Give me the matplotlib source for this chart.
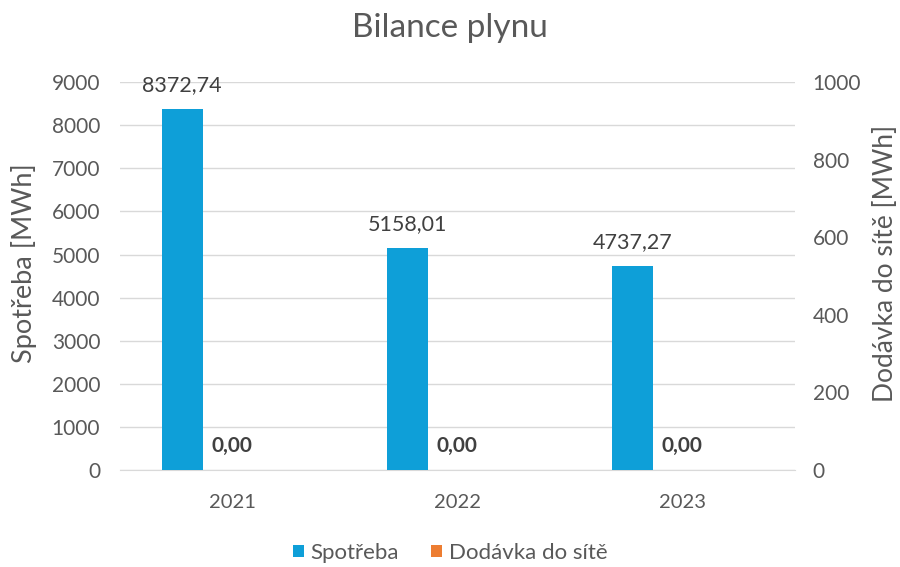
import numpy as np
import matplotlib.pyplot as plt

plt.rcParams['font.family'] = ['Lato', 'DejaVu Sans']

# Data
years = ['2021', '2022', '2023']
spotreba = [8372.74, 5158.01, 4737.27]
dodavka = [0.00, 0.00, 0.00]

def fmt(v):
    return f'{v:.2f}'.replace('.', ',')

text_col = '#595959'
x = np.arange(len(years))
w = 0.18

fig = plt.figure(figsize=(9, 5.67), dpi=100)
ax = fig.add_axes([0.133, 0.171, 0.750, 0.684])
ax2 = ax.twinx()

b1 = ax.bar(x - 0.222, spotreba, w, color='#0E9FD8', label='Spotřeba', zorder=3)
b2 = ax2.bar(x, dodavka, w, color='#ED7D31', label='Dodávka do sítě', zorder=3)

# data labels
for xi, v in zip(x, spotreba):
    ax.text(xi - 0.222, v + 560, fmt(v), ha='center', va='center',
            fontsize=15.5, color='#404040')
for xi, v in zip(x, dodavka):
    ax2.text(xi, v + 62, fmt(v), ha='center', va='center',
             fontsize=15, color='#404040', fontweight='bold')

ax.set_xlim(-0.5, 2.5)
ax.set_ylim(0, 9000)
ax.set_yticks(np.arange(0, 9001, 1000))
ax2.set_ylim(0, 1000)
ax2.set_yticks(np.arange(0, 1001, 200))
ax.set_xticks(x)
ax.set_xticklabels(years)

ax.grid(axis='y', color='#D9D9D9', linewidth=1, zorder=0)
for a in (ax, ax2):
    for s in a.spines.values():
        s.set_visible(False)
    a.tick_params(length=0, labelsize=15, colors=text_col)
ax.spines['bottom'].set_visible(True)
ax.spines['bottom'].set_color('#D9D9D9')
ax.tick_params(axis='x', pad=17, labelsize=14.5)
ax.tick_params(axis='y', pad=14)
ax2.tick_params(axis='y', pad=13)

ax.set_ylabel('Spotřeba [MWh]', fontsize=19.5, color=text_col)
ax.yaxis.set_label_coords(-0.122, 0.534)
ax2.set_ylabel('Dodávka do sítě [MWh]', fontsize=19, color=text_col)
ax2.yaxis.set_label_coords(1.1156, 0.534)
fig.text(0.5, 1 - 28 / 567, 'Bilance plynu', fontsize=24, color=text_col,
         ha='center', va='center')

fig.legend(handles=[b1, b2], loc='center', ncol=2, frameon=False,
           fontsize=16, labelcolor=text_col, handlelength=0.5, handleheight=0.5,
           columnspacing=1.45, handletextpad=0.3, bbox_to_anchor=(0.5, 1 - 553 / 567))

fig.savefig('out.png', dpi=100)
